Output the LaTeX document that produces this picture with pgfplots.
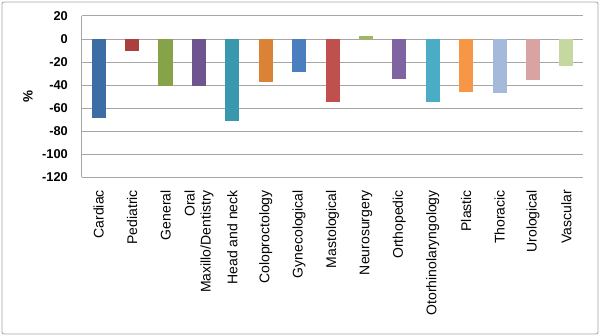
\documentclass[border=0pt]{standalone}
\usepackage{pgfplots}
\pgfplotsset{compat=1.18}
\usepackage{fontspec}
\setmainfont{Liberation Sans}
\definecolor{c1}{HTML}{3E6CA5}
\definecolor{c2}{HTML}{A9403D}
\definecolor{c3}{HTML}{86A34A}
\definecolor{c4}{HTML}{6E5590}
\definecolor{c5}{HTML}{3A98AE}
\definecolor{c6}{HTML}{DA8236}
\definecolor{c7}{HTML}{4A7EBF}
\definecolor{c8}{HTML}{C0504D}
\definecolor{c9}{HTML}{9BBB59}
\definecolor{c10}{HTML}{8064A2}
\definecolor{c11}{HTML}{4BACC6}
\definecolor{c12}{HTML}{F79646}
\definecolor{c13}{HTML}{A5B9DA}
\definecolor{c14}{HTML}{D9A3A4}
\definecolor{c15}{HTML}{C4D8A0}
\definecolor{gridc}{HTML}{A6A6A6}
\begin{document}
\begin{tikzpicture}
\fill[white] (-82bp,-159bp) rectangle (518bp,177bp);
\draw[gridc, line width=0.8bp, rounded corners=2bp] (-80bp,-157bp) rectangle (516bp,175bp);
\begin{axis}[
  at={(0,0)}, anchor=south west,
  scale only axis, width=501bp, height=161bp,
  ybar, bar width=14bp, bar shift=0pt,
  xmin=-0.5, xmax=14.5, ymin=-120, ymax=20,
  axis lines=left, axis line style={-, draw=gridc, line width=1bp},
  ymajorgrids, grid style={draw=gridc, line width=1bp},
  major tick length=0pt,
  ytick={-120,-100,-80,-60,-40,-20,0,20},
  yticklabels={-120,-100,-80,-60,-40,-20,0,20},
  yticklabel style={font=\fontsize{12.8bp}{15bp}\selectfont\bfseries, anchor=east, inner sep=0pt, xshift=-14bp},
  xtick={0,...,14},
  xticklabels={Cardiac,Pediatric,General,{Oral\\Maxillo/Dentistry},Head and neck,Coloproctology,Gynecological,Mastological,Neurosurgery,Orthopedic,Otorhinolaryngology,Plastic,Thoracic,Urological,Vascular},
  xticklabel style={rotate=90, anchor=east, align=right, inner sep=0pt, font=\fontsize{14bp}{16bp}\selectfont},
  xticklabel shift=13bp,
  ylabel={\textbf{\%}}, ylabel style={font=\fontsize{13.5bp}{15bp}\selectfont, at={(-54bp,0.5)}, anchor=center, rotate=0},
  clip=false,
]
\addplot[fill=c1, draw=none] coordinates {(0,-68.6)};
\addplot[fill=c2, draw=none] coordinates {(1,-10)};
\addplot[fill=c3, draw=none] coordinates {(2,-40.5)};
\addplot[fill=c4, draw=none] coordinates {(3,-40.5)};
\addplot[fill=c5, draw=none] coordinates {(4,-71.7)};
\addplot[fill=c6, draw=none] coordinates {(5,-37.2)};
\addplot[fill=c7, draw=none] coordinates {(6,-28.6)};
\addplot[fill=c8, draw=none] coordinates {(7,-54.6)};
\addplot[fill=c9, draw=none] coordinates {(8,3)};
\addplot[fill=c10, draw=none] coordinates {(9,-34.9)};
\addplot[fill=c11, draw=none] coordinates {(10,-54.6)};
\addplot[fill=c12, draw=none] coordinates {(11,-46)};
\addplot[fill=c13, draw=none] coordinates {(12,-47)};
\addplot[fill=c14, draw=none] coordinates {(13,-35.5)};
\addplot[fill=c15, draw=none] coordinates {(14,-23.4)};
\end{axis}
\end{tikzpicture}
\end{document}
